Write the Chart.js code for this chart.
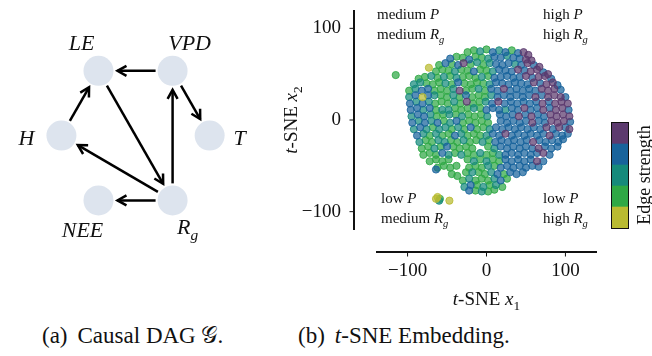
<!DOCTYPE html>
<html>
<head>
<meta charset="utf-8">
<script src="https://cdn.jsdelivr.net/npm/chart.js@4.4.1/dist/chart.umd.min.js"></script>
<style>
  body { margin: 0; width: 652px; height: 356px; background: #fff; overflow: hidden; position: relative; font-family: "Liberation Serif", serif; color: #111; }
  #dag { position: absolute; left: 0; top: 0; }
  #tsne { position: absolute; left: 280px; top: 0; }
  #cbar-box { position: absolute; left: 611px; top: 122px; width: 16px; height: 105px; border: 1.5px solid #111; }
  #cbar { display: block; }
  #cbar-label { position: absolute; left: 644px; top: 175px; transform: translate(-50%, -50%) rotate(-90deg); font-size: 18px; white-space: nowrap; }
  .cap { position: absolute; top: 323px; font-size: 23px; white-space: nowrap; }
  .cap b { font-weight: normal; margin-right: 10px; }
</style>
</head>
<body>
<canvas id="dag" width="280" height="300"></canvas>
<canvas id="tsne" width="372" height="320"></canvas>
<div id="cbar-box"><canvas id="cbar" width="16" height="105"></canvas></div>
<div id="cbar-label">Edge strength</div>
<div class="cap" style="left:42px"><b>(a)</b>Causal DAG 𝒢.</div>
<div class="cap" style="left:298px"><b>(b)</b><i>t</i>-SNE Embedding.</div>

<script>
// ---- causal graph ----
const nodeNames = ['LE', 'VPD', 'H', 'T', 'NEE', 'Rg'];
const nodeX = [1, 3, 0, 4, 1, 3];
const nodeY = [2, 2, 1, 1, 0, 0];
const edges = [['VPD', 'LE'], ['H', 'LE'], ['LE', 'Rg'], ['VPD', 'T'], ['Rg', 'VPD'], ['Rg', 'H'], ['Rg', 'NEE']];

// ---- t-SNE embedding, one list per edge-strength bin ----
const greenPts = [
  [-24,74],[-16,76],[0,77],[32,76],
  [-38,69],[-30,68],[-14,69],[-6,68],
  [-60,60],[-44,61],[-20,61],[-4,60],
  [-64,53],[-56,55],[-48,54],[-32,55],[-24,54],[-8,55],[0,54],
  [-115,49],[-86,45],[-78,47],[-62,46],[-46,48],[-30,47],[-22,48],[-14,46],[2,48],
  [-76,40],[-68,39],[-60,41],[-44,39],[-28,40],[-20,39],[-12,41],[-4,40],
  [-98,32],[-66,32],[-58,34],[-50,32],[-26,32],[-18,34],[-2,32],
  [-58,27],[-50,25],[-34,25],[-18,25],[-10,27],[-2,25],
  [-65,18],[-57,20],[-49,18],[-33,18],[-17,18],[-9,20],
  [-64,11],[-40,13],[-32,11],[-24,13],[-8,13],
  [-63,4],[-55,6],[-39,6],[-23,6],[-15,4],[-7,6],
  [-54,-1],[-30,-3],[-22,-1],[-14,-3],[-6,-1],[2,-3],
  [-68,-8],[-44,-10],[-28,-10],[-12,-10],[-4,-8],
  [-72,-17],[-56,-17],[-48,-15],[-24,-17],[-16,-15],[-8,-17],
  [-77,-22],[-69,-24],[-45,-22],[-37,-24],[-21,-24],[-13,-22],[3,-22],
  [-82,-31],[-74,-29],[-58,-29],[-42,-29],[-34,-31],[-26,-29],[-18,-31],[2,-29],
  [-80,-38],[-72,-36],[-64,-38],[-40,-36],[-24,-36],[-16,-38],[0,-38],[8,-36],
  [-72,-45],[-64,-43],[-56,-45],[-48,-43],[-24,-43],[-8,-43],[8,-43],[16,-45],
  [-62,-52],[-54,-50],[-46,-52],[-38,-50],[-22,-52],[-14,-50],[-6,-52],[10,-50],
  [-44,-59],[-37,-61],[-26,-57],[-10,-57],[-2,-59],[22,-59],
  [-30,-66],[-14,-66],[-6,-64],[2,-66],[26,-64],
  [-12,-71],[4,-71],[20,-73],
  [-14,-77],[2,-78],[10,-76],
  [-59,-86]
];
const tealPts = [
  [-8,75],[16,76],
  [2,67],[26,70],
  [-12,63],[4,62],[36,61],
  [-40,53],[8,53],
  [-70,48],[-54,47],[-38,46],[-6,47],
  [-92,39],[-84,41],[-52,40],[4,39],
  [-90,34],[-42,34],[-10,34],
  [-98,25],[-66,27],[-42,27],[6,27],
  [-89,20],[-73,20],[-41,20],[-1,20],
  [-80,11],[-56,11],[-48,11],[-16,13],[24,11],
  [-95,4],[-71,6],[-47,6],[-31,4],[1,4],
  [-86,-1],[-70,-1],[-46,-3],
  [-92,-10],[-76,-10],[-60,-10],[-52,-8],[-36,-8],[4,-10],
  [-80,-15],[-64,-15],[-32,-15],[0,-17],
  [-85,-24],[-61,-22],[-53,-24],[-29,-22],[-5,-24],
  [-66,-31],[10,-31],
  [-48,-38],[-32,-38],[-8,-36],[16,-38],
  [-16,-45],[0,-45],
  [2,-50],
  [-18,-57],[6,-57],
  [-22,-64],[10,-64],
  [-28,-73],[-4,-73],[12,-71],
  [-6,-78],
  [-60,-88]
];
const bluePts = [
  [8,74],[24,74],[40,73],
  [-46,67],[-22,66],[10,69],[18,68],[34,68],[42,67],
  [-52,62],[-36,60],[12,61],[20,60],[28,62],[44,60],[60,60],
  [-16,53],[16,55],[24,54],[32,53],[48,54],[72,52],
  [10,46],[18,47],[26,48],[34,46],[42,47],[58,46],[82,45],
  [-36,41],[12,41],[20,40],[28,39],[36,41],[44,40],[52,39],[68,40],[90,38],
  [-82,32],[-74,34],[6,34],[14,32],[30,32],[38,34],[46,32],[54,34],[62,32],[94,33],
  [-90,27],[-74,27],[-26,27],[14,25],[22,27],[30,25],[38,27],[46,25],[54,27],[70,27],[100,25],
  [-97,18],[-81,18],[7,18],[23,18],[31,20],[39,18],[47,20],[55,18],[63,20],[79,20],
  [-96,11],[-88,13],[-72,13],[0,11],[8,13],[16,11],[32,13],[40,11],[56,11],[64,13],[80,13],[104,11],
  [-87,6],[-79,4],[17,6],[25,4],[33,6],[49,6],[65,6],[73,4],
  [-94,-3],[-78,-3],[-62,-3],[-38,-1],[18,-1],[26,-3],[34,-1],[42,-3],[50,-1],[66,-1],[74,-3],[106,-2],
  [-84,-8],[-20,-8],[12,-8],[20,-10],[28,-8],[36,-10],[44,-8],[52,-10],[60,-8],[68,-10],[84,-10],[100,-8],
  [-88,-17],[-40,-17],[8,-15],[16,-17],[32,-17],[40,-15],[48,-17],[56,-15],[64,-17],[72,-15],[88,-15],[96,-17],[103,-15],
  [11,-24],[19,-22],[27,-24],[35,-22],[43,-24],[51,-22],[67,-22],[75,-24],[83,-22],[91,-24],[97,-21],
  [-50,-29],[18,-29],[26,-31],[34,-29],[42,-31],[50,-29],[58,-31],[74,-29],[82,-31],[90,-29],
  [-56,-36],[24,-38],[32,-36],[40,-38],[48,-36],[56,-38],[64,-36],[80,-38],
  [24,-43],[32,-45],[40,-43],[48,-45],[56,-43],[72,-45],
  [18,-52],[26,-50],[34,-52],[42,-50],[50,-52],[58,-50],[66,-51],
  [-64,-54],[14,-59],[30,-57],[38,-59],[46,-57],
  [18,-66],
  [-20,-71],
  [-22,-77]
];
const purplePts = [
  [47,74],[53,71],
  [50,66],[57,65],
  [-29,62],[52,62],[67,58],
  [40,55],[56,53],[64,55],[78,50],
  [50,48],[66,47],[74,48],
  [60,41],[76,39],[84,41],
  [-34,32],[22,34],[70,34],[78,32],[86,34],
  [62,25],[78,25],[86,27],[94,25],
  [-25,20],[15,20],[71,18],[87,18],[95,20],[103,18],
  [48,13],[72,11],[88,11],[96,13],
  [41,4],[57,4],[81,6],[89,4],[97,6],[105,4],
  [58,-3],[82,-1],[90,-3],[98,-1],
  [76,-8],[92,-8],[105,-10],
  [24,-15],[80,-17],
  [59,-24],
  [66,-31],
  [72,-36],
  [64,-45]
];
const yellowPts = [[-73,57],[-81,25],[-62,-84],[-64,-86],[-47,-88]];

const binColors = ['#b9bb31', '#2fa845', '#168a7b', '#18639b', '#5c3a6e']; // low -> high
const cbarBins = [1, 1, 1, 1, 1];
const xTicks = [-100, 0, 100];
const yTicks = [-100, 0, 100];
const cornerText = [['medium', 'medium'], ['high', 'high'], ['low', 'medium'], ['low', 'high']];

const SERIF = '"Liberation Serif", "Times New Roman", serif';

function rgba(hex, a) {
  const n = parseInt(hex.slice(1), 16);
  return `rgba(${n >> 16}, ${(n >> 8) & 255}, ${n & 255}, ${a})`;
}

// parts: [text, style]  r = roman, i = italic, s = italic subscript, n = roman subscript
function richText(ctx, parts, x, y, size, align) {
  const fontOf = st => (st === 'i' || st === 's' ? 'italic ' : '') +
    (st === 's' || st === 'n' ? size * 0.7 : size) + 'px ' + SERIF;
  let w = 0;
  parts.forEach(([t, st]) => { ctx.font = fontOf(st); w += ctx.measureText(t).width; });
  let cx = align === 'center' ? x - w / 2 : x;
  ctx.textAlign = 'left';
  ctx.textBaseline = 'alphabetic';
  parts.forEach(([t, st]) => {
    ctx.font = fontOf(st);
    ctx.fillText(t, cx, y + (st === 's' || st === 'n' ? size * 0.24 : 0));
    cx += ctx.measureText(t).width;
  });
}

// ---------------- (a) DAG ----------------
const NODE_R = 15;
const labelOffset = { LE: [-17, -21], VPD: [17, -21], H: [-35, 9], T: [30, 9], NEE: [-16, 37], Rg: [15, 34] };

const dagDecor = {
  id: 'dagDecor',
  afterDatasetsDraw(chart) {
    const { ctx, scales: { x, y } } = chart;
    const pos = {};
    nodeNames.forEach((n, i) => { pos[n] = [x.getPixelForValue(nodeX[i]), y.getPixelForValue(nodeY[i])]; });
    ctx.save();
    ctx.strokeStyle = '#000';
    ctx.lineWidth = 2.5;
    ctx.lineCap = 'butt';
    ctx.lineJoin = 'miter';
    edges.forEach(([a, b]) => {
      const [x1, y1] = pos[a], [x2, y2] = pos[b];
      const L = Math.hypot(x2 - x1, y2 - y1), ux = (x2 - x1) / L, uy = (y2 - y1) / L;
      const sx = x1 + ux * (NODE_R + 2), sy = y1 + uy * (NODE_R + 2);
      const ex = x2 - ux * (NODE_R + 4), ey = y2 - uy * (NODE_R + 4);
      ctx.beginPath();
      ctx.moveTo(sx, sy);
      ctx.lineTo(ex, ey);
      ctx.stroke();
      const hl = 9, hw = 5;
      ctx.beginPath();
      ctx.moveTo(ex - ux * hl - uy * hw, ey - uy * hl + ux * hw);
      ctx.lineTo(ex, ey);
      ctx.lineTo(ex - ux * hl + uy * hw, ey - uy * hl - ux * hw);
      ctx.stroke();
    });
    ctx.fillStyle = '#111';
    nodeNames.forEach(n => {
      const [px, py] = pos[n], [dx, dy] = labelOffset[n];
      const parts = n === 'Rg' ? [['R', 'i'], ['g', 's']] : [[n, 'i']];
      richText(ctx, parts, px + dx, py + dy, 22, 'center');
    });
    ctx.restore();
  }
};

new Chart(document.getElementById('dag'), {
  type: 'scatter',
  data: {
    datasets: [{
      data: nodeNames.map((n, i) => ({ x: nodeX[i], y: nodeY[i] })),
      pointRadius: NODE_R,
      pointBackgroundColor: '#dde4ee',
      pointBorderWidth: 0
    }]
  },
  options: {
    responsive: false,
    animation: false,
    events: [],
    layout: { padding: 0 },
    plugins: { legend: { display: false }, tooltip: { enabled: false } },
    scales: {
      x: { display: false, min: -1.253, max: 5.494 },
      y: { display: false, min: -1.306, max: 2.861 }
    }
  },
  plugins: [dagDecor]
});

// ---------------- (b) t-SNE ----------------
const SPINE_OFF = 22;

const tsneDecor = {
  id: 'tsneDecor',
  afterDraw(chart) {
    const { ctx, chartArea: a, scales: { x, y } } = chart;
    ctx.save();
    ctx.strokeStyle = '#111';
    ctx.lineWidth = 2;
    ctx.beginPath();
    ctx.moveTo(a.left - SPINE_OFF, a.top);
    ctx.lineTo(a.left - SPINE_OFF, a.bottom);
    ctx.moveTo(a.left, a.bottom + SPINE_OFF);
    ctx.lineTo(a.right, a.bottom + SPINE_OFF);
    ctx.stroke();
    ctx.lineWidth = 1;
    ctx.beginPath();
    yTicks.forEach(v => {
      const py = y.getPixelForValue(v);
      ctx.moveTo(a.left - SPINE_OFF, py);
      ctx.lineTo(a.left - SPINE_OFF - 4.5, py);
    });
    xTicks.forEach(v => {
      const px = x.getPixelForValue(v);
      ctx.moveTo(px, a.bottom + SPINE_OFF);
      ctx.lineTo(px, a.bottom + SPINE_OFF + 4.5);
    });
    ctx.stroke();

    ctx.fillStyle = '#111';
    richText(ctx, [['t', 'i'], ['-SNE ', 'r'], ['x', 'i'], ['1', 'n']], (a.left + a.right) / 2, 305, 19, 'center');
    ctx.save();
    ctx.translate(17, (a.top + a.bottom) / 2);
    ctx.rotate(-Math.PI / 2);
    richText(ctx, [['t', 'i'], ['-SNE ', 'r'], ['x', 'i'], ['2', 'n']], 0, 0, 19, 'center');
    ctx.restore();

    const spots = [[a.left + 1, 19], [a.left + 167, 19], [a.left + 5, 203], [a.left + 167, 203]];
    cornerText.forEach(([p, r], i) => {
      const [tx, ty] = spots[i];
      richText(ctx, [[p + ' ', 'r'], ['P', 'i']], tx, ty, 15, 'left');
      richText(ctx, [[r + ' ', 'r'], ['R', 'i'], ['g', 's']], tx, ty + 20, 15, 'left');
    });
    ctx.restore();
  }
};

const groups = [
  [yellowPts, binColors[0]],
  [purplePts, binColors[4]],
  [bluePts, binColors[3]],
  [tealPts, binColors[2]],
  [greenPts, binColors[1]]
];

const minusFmt = v => (v < 0 ? '\u2212' + Math.abs(v) : String(v));

new Chart(document.getElementById('tsne'), {
  type: 'scatter',
  data: {
    datasets: groups.map(([pts, c]) => ({
      data: pts.map(([px, py]) => ({ x: px, y: py })),
      pointRadius: 3.6,
      pointBorderWidth: 1,
      pointBackgroundColor: rgba(c, 0.72),
      pointBorderColor: rgba(c, 0.85)
    }))
  },
  options: {
    responsive: false,
    animation: false,
    events: [],
    layout: { padding: { left: 0, top: 10, right: 55, bottom: 0 } },
    plugins: { legend: { display: false }, tooltip: { enabled: false } },
    scales: {
      x: {
        min: -140, max: 140,
        afterBuildTicks: s => { s.ticks = xTicks.map(v => ({ value: v })); },
        afterFit: s => { s.height = 90; s.paddingLeft = 0; s.paddingRight = 0; },
        grid: { display: false, drawTicks: false },
        border: { display: false },
        ticks: { padding: 30, color: '#111', font: { family: SERIF, size: 19 }, callback: minusFmt, maxRotation: 0 }
      },
      y: {
        min: -120, max: 120,
        afterBuildTicks: s => { s.ticks = yTicks.map(v => ({ value: v })); },
        afterFit: s => { s.width = 96; s.paddingTop = 0; s.paddingBottom = 0; },
        grid: { display: false, drawTicks: false },
        border: { display: false },
        ticks: { padding: 35, color: '#111', font: { family: SERIF, size: 19 }, callback: minusFmt }
      }
    }
  },
  plugins: [tsneDecor]
});

// ---------------- colour bar ----------------
new Chart(document.getElementById('cbar'), {
  type: 'bar',
  data: {
    labels: [''],
    datasets: cbarBins.map((v, i) => ({
      data: [v],
      backgroundColor: binColors[i],
      borderWidth: 0,
      barPercentage: 1,
      categoryPercentage: 1
    }))
  },
  options: {
    responsive: false,
    animation: false,
    events: [],
    layout: { padding: 0 },
    plugins: { legend: { display: false }, tooltip: { enabled: false } },
    scales: {
      x: { display: false, stacked: true },
      y: { display: false, stacked: true, min: 0, max: cbarBins.length }
    }
  }
});
</script>
</body>
</html>
